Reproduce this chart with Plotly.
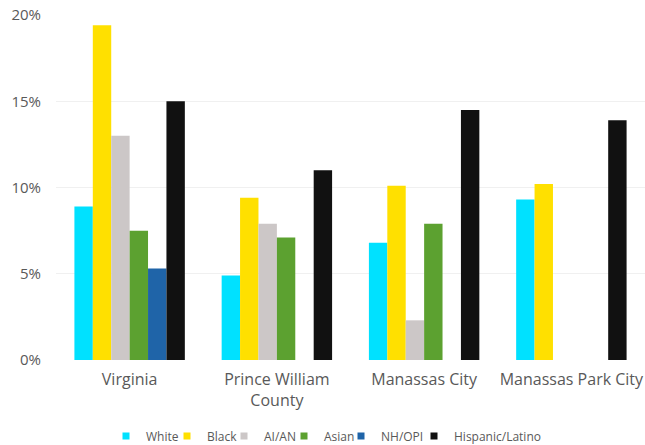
import plotly.graph_objects as go

categories = ["Virginia", "Prince William<br>County", "Manassas City", "Manassas Park City"]
series_names = ["White", "Black", "AI/AN", "Asian", "NH/OPI", "Hispanic/Latino"]
white = [8.9, 4.9, 6.8, 9.3]
black = [19.4, 9.4, 10.1, 10.2]
aian = [13.0, 7.9, 2.3, None]
asian = [7.5, 7.1, 7.9, None]
nhopi = [5.3, None, None, None]
hispanic = [15.0, 11.0, 14.5, 13.9]
tick_vals = [0, 5, 10, 15, 20]
tick_text = ["0%", "5%", "10%", "15%", "20%"]

colors = ["#00E1FF", "#FFE000", "#CCC7C7", "#5CA130", "#1F64A8", "#111111"]
values = [white, black, aian, asian, nhopi, hispanic]
legend_left_px = [106, 167, 224, 284, 341, 414]

W, H = 645, 445
fig = go.Figure()
legend_layout = {}
for i, (name, vals, col) in enumerate(zip(series_names, values, colors)):
    key = "legend" if i == 0 else f"legend{i + 1}"
    fig.add_trace(go.Bar(x=categories, y=vals, name=name, marker_color=col,
                         marker_line_width=0, showlegend=False))
    # legend-only entry with a small square swatch
    fig.add_trace(go.Scatter(x=[None], y=[None], mode="markers", name=name,
                             marker=dict(symbol="square", size=7, color=col),
                             legend=key, showlegend=True, hoverinfo="skip"))
    legend_layout[key] = dict(
        orientation="h", xref="container", yref="container",
        x=legend_left_px[i] / W, xanchor="left",
        y=9 / H, yanchor="middle",
        font=dict(size=12, color="#595959"), itemwidth=30,
        bgcolor="rgba(0,0,0,0)",
    )

fig.update_layout(
    width=W, height=H,
    barmode="group", bargap=0.25, bargroupgap=0,
    plot_bgcolor="white", paper_bgcolor="white",
    margin=dict(l=56, r=0, t=15, b=85),
    font=dict(family="Open Sans, Lato, sans-serif", color="#595959"),
    xaxis=dict(showline=False, ticks="", automargin=False,
               tickfont=dict(size=16, color="#595959"), ticklabelstandoff=8),
    yaxis=dict(range=[0, 20], tickvals=tick_vals, ticktext=tick_text, automargin=False,
               showgrid=True, gridcolor="#F0F0F0", gridwidth=1, zeroline=False,
               tickfont=dict(size=15, color="#595959"), ticklen=0, ticks="",
               ticklabelstandoff=14),
    showlegend=True,
    **legend_layout,
)

fig.write_html("out.html")
